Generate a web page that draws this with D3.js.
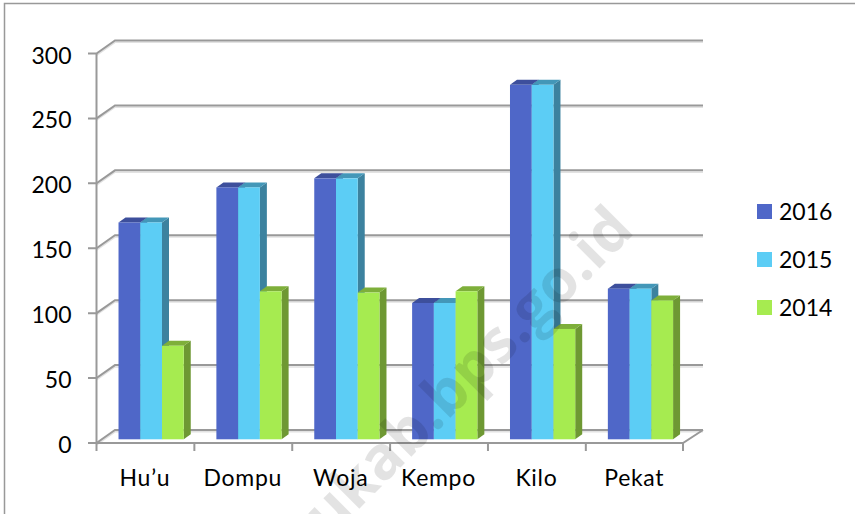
<!DOCTYPE html>
<meta charset="utf-8">
<style>
    body { margin: 0; background: #fff; }
    text { font-family: Lato, sans-serif; fill: #000; }
    .tick-label { font-size: 23px; }
    .cat-label { font-size: 23px; text-anchor: middle; letter-spacing: 0.7px; }
    .grid { stroke: #999; stroke-width: 2; fill: none; }
    .grid-shadow { stroke: #e2e2e2; stroke-width: 1.5; fill: none; }
</style>
<svg width="855" height="514"></svg>

<script src="https://d3js.org/d3.v7.min.js"></script>
<script>
    var categories = ["Hu’u", "Dompu", "Woja", "Kempo", "Kilo", "Pekat"];
    var seriesNames = ["2016", "2015", "2014"];
    var values2016 = [167, 194, 201, 105, 273, 116];
    var values2015 = [167, 194, 201, 105, 273, 116];
    var values2014 = [72, 114, 113, 114, 85, 107];
    var yTicks = [0, 50, 100, 150, 200, 250, 300];

    var seriesValues = [values2016, values2015, values2014];
    var front = ["#4f67c8", "#5ccdf5", "#a6eb50"];
    var top3d = ["#3d4f9c", "#4397b8", "#7eaf3a"];
    var side = ["#344683", "#3c829f", "#6e9833"];

    var svg = d3.select("svg");
    var depthX = 18.5, depthY = -13;   // chart floor depth
    var barShiftX = 5.7, barShiftY = -3.7;
    var barDx = 7, barDy = -5;

    var x = d3.scaleBand().domain(categories).range([96.5, 683.7]).paddingInner(0.3335).paddingOuter(0.16675);
    var x1 = d3.scaleBand().domain(seriesNames).range([0, x.bandwidth()]);
    var y = d3.scaleLinear().domain([0, 300]).range([443, 53.5]);

    // page frame
    svg.append("path").attr("d", "M4.5,514V3.5H855").attr("fill", "none").attr("stroke", "#999").attr("stroke-width", 1.5);

    // gridlines
    yTicks.forEach(function(t) {
        var yy = y(t);
        var d = "M96.5," + yy + "L" + (96.5 + depthX) + "," + (yy + depthY) + "H" + (683 + depthX + 1.5);
        svg.append("path").attr("class", "grid-shadow").attr("transform", "translate(0,1.8)").attr("d", d);
        svg.append("path").attr("class", "grid").attr("d", "M88," + yy + "H96.5" + d.replace(/^M[^L]*/, ""));
    });

    // floor front and right edge
    svg.append("path").attr("class", "grid")
        .attr("d", "M96.5," + y(300) + "V" + y(0) + "H683L" + (683 + depthX + 1.5) + "," + (y(0) + depthY));

    var tickXs = categories.map(function(c) { return x(c) - x.step() * x.paddingOuter(); }).concat([683]);
    svg.selectAll(".xtick").data(tickXs).enter().append("line")
        .attr("class", "grid")
        .attr("x1", function(d) { return d; }).attr("x2", function(d) { return d; })
        .attr("y1", y(0)).attr("y2", y(0) + 8);

    svg.selectAll(".tick-label").data(yTicks).enter().append("text")
        .attr("class", "tick-label")
        .attr("text-anchor", "end")
        .attr("x", 71.5)
        .attr("y", function(d) { return y(d) + 10; })
        .text(function(d) { return d; });

    svg.selectAll(".cat-label").data(categories).enter().append("text")
        .attr("class", "cat-label")
        .attr("x", function(d) { return x(d) + x.bandwidth() / 2 - 0.5; })
        .attr("y", 486)
        .text(function(d) { return d; });

    // bars, drawn per group so neighbours overlap like the 3d original
    categories.forEach(function(c, ci) {
        var g = svg.append("g").attr("transform", "translate(" + (x(c) + barShiftX) + "," + barShiftY + ")");
        seriesNames.forEach(function(s, si) {
            var v = seriesValues[si][ci];
            var x0 = x1(s), w = x1.bandwidth(), yt = y(v), yb = y(0);
            g.append("path").attr("fill", side[si])
                .attr("d", "M" + (x0 + w) + "," + yt + "l" + barDx + "," + barDy + "V" + (yb + barDy) + "l" + (-barDx) + "," + (-barDy) + "Z");
            g.append("path").attr("fill", top3d[si])
                .attr("d", "M" + x0 + "," + yt + "l" + barDx + "," + barDy + "h" + w + "l" + (-barDx) + "," + (-barDy) + "Z");
            g.append("rect").attr("x", x0).attr("y", yt).attr("width", w).attr("height", yb - yt).attr("fill", front[si]);
        });
    });

    // legend
    var legendY = d3.scalePoint().domain(seriesNames).range([211.5, 307.5]);
    seriesNames.forEach(function(s, i) {
        svg.append("rect").attr("x", 757).attr("y", legendY(s) - 7.5).attr("width", 15).attr("height", 15).attr("fill", front[i]);
        svg.append("text").attr("class", "tick-label").attr("x", 779).attr("y", legendY(s) + 8).text(s);
    });

    // watermark
    svg.append("text")
        .attr("transform", "translate(636,232) rotate(-45)")
        .attr("text-anchor", "end")
        .style("font-family", "'Open Sans', sans-serif")
        .style("font-weight", "700")
        .style("font-size", "60px")
        .style("fill", "#000")
        .style("fill-opacity", 0.11)
        .text("dompukab.bps.go.id");
</script>
